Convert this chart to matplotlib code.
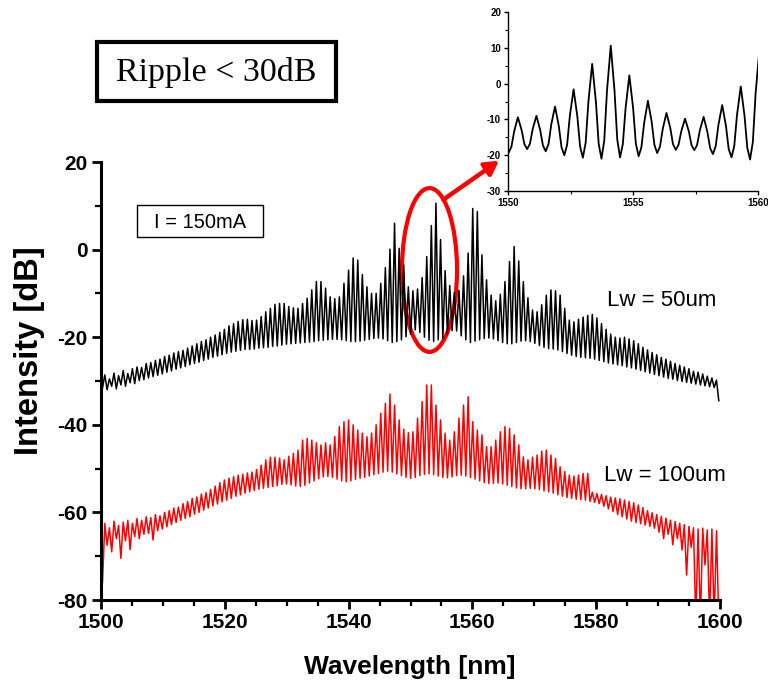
import numpy as np
import matplotlib
matplotlib.use("Agg")
import matplotlib.pyplot as plt
from matplotlib.patches import Ellipse, Rectangle

# ---------------------------------------------------------------------------
# Longitudinal mode comb: one peak every 0.743 nm, centred on the 1554.11 nm line
MODE_SPACING = 0.743
peak_wl = 1554.11 + MODE_SPACING * np.arange(-72, 62)                  # 134 peaks
trough_wl = np.append(peak_wl - MODE_SPACING / 2, peak_wl[-1] + MODE_SPACING / 2)  # 135 troughs

# Lw = 50 um : peak levels (dB) of every mode, short to long wavelength
lw50_peaks = [
    -28.6, -29.5, -28.2, -28.8, -27.6, -28.3, -27.2, -26.8, -26.9, -26.0,
    -25.8, -25.3, -25.0, -24.4, -24.1, -23.6, -23.3, -23.0, -22.5, -22.0,
    -21.5, -21.0, -20.6, -20.0, -19.5, -18.9, -18.2, -17.4, -16.9, -16.4,
    -16.0, -15.9, -16.2, -16.1, -15.3, -14.2, -13.4, -12.5, -12.3, -12.3,
    -13.0, -13.3, -13.4, -12.3, -11.1, -9.2, -7.3, -7.3, -8.8, -10.8,
    -11.2, -10.8, -7.7, -4.7, -1.9, -2.4, -5.7, -8.5, -10.0, -10.0,
    -7.7, -4.1, 0.1, 6.0, 0.3, -3.5, -8.5, -9.4, -9.0, -6.4,
    -1.6, 5.5, 10.6, 2.3, -4.8, -8.2, -9.8, -9.3, -6.0, -0.8,
    9.4, 8.7, -1.2, -6.9, -10.4, -11.7, -10.2, -7.3, -2.7, 0.7,
    -2.6, -7.3, -11.0, -13.8, -14.2, -12.6, -10.4, -9.2, -9.4, -10.4,
    -13.4, -16.1, -16.5, -15.9, -15.4, -15.0, -14.8, -15.6, -16.9, -18.2,
    -19.3, -20.0, -20.2, -20.0, -20.4, -20.8, -21.5, -22.3, -22.9, -23.5,
    -24.0, -24.6, -25.0, -25.5, -26.0, -26.4, -26.8, -27.2, -27.8, -28.0,
    -28.4, -28.9, -29.3, -29.8,
]
# Lw = 50 um : levels (dB) of the minima between modes
lw50_troughs = [
    -31.6, -32.0, -31.2, -31.8, -30.9, -31.2, -30.4, -30.6, -29.9, -29.7,
    -29.3, -29.0, -28.7, -28.4, -28.0, -27.7, -27.3, -27.0, -26.7, -26.3,
    -26.0, -25.7, -25.3, -25.0, -24.6, -24.3, -24.0, -23.7, -23.4, -23.2,
    -23.0, -22.8, -22.8, -22.7, -22.5, -22.4, -22.3, -22.1, -22.0, -21.8,
    -21.6, -21.5, -21.4, -21.3, -21.2, -21.1, -21.0, -20.8, -20.7, -20.6,
    -20.5, -20.5, -20.6, -20.8, -21.0, -21.0, -20.9, -20.7, -20.5, -20.3,
    -20.2, -20.4, -20.8, -21.2, -21.0, -20.6, -19.9, -19.3, -18.3, -18.9,
    -20.0, -20.7, -21.0, -20.6, -20.3, -19.4, -18.5, -18.6, -19.7, -20.6,
    -21.2, -20.9, -20.6, -20.3, -20.2, -20.4, -20.8, -21.2, -21.5, -21.5,
    -21.2, -20.9, -20.8, -21.0, -21.4, -21.9, -22.3, -22.6, -22.7, -22.9,
    -23.3, -23.7, -24.1, -24.4, -24.6, -24.7, -24.8, -25.0, -25.3, -25.6,
    -25.9, -26.1, -26.3, -26.5, -26.8, -27.0, -27.3, -27.6, -27.9, -28.2,
    -28.5, -28.8, -29.1, -29.4, -29.6, -29.9, -30.1, -30.3, -30.5, -30.7,
    -30.9, -31.1, -31.3, -31.5, -34.5,
]

# Lw = 100 um : peak levels (dB)
lw100_peaks = [
    -62.5, -63.5, -62.0, -63.0, -62.2, -61.8, -62.5, -61.4, -61.8, -61.0,
    -61.2, -60.5, -60.8, -60.0, -59.6, -59.0, -58.8, -58.0, -57.5, -56.8,
    -56.5, -55.8, -55.5, -54.8, -54.0, -53.2, -52.6, -52.2, -51.8, -51.5,
    -51.3, -51.0, -50.8, -50.2, -49.2, -48.0, -47.4, -47.4, -47.6, -48.0,
    -47.2, -46.5, -45.8, -43.5, -43.1, -43.5, -44.1, -44.6, -44.1, -44.6,
    -42.7, -40.4, -39.3, -38.9, -40.0, -41.2, -41.9, -42.7, -41.9, -40.0,
    -37.4, -35.1, -33.0, -35.5, -38.9, -41.0, -41.8, -41.6, -38.5, -34.7,
    -30.9, -30.9, -35.5, -38.9, -41.9, -43.5, -41.6, -38.5, -35.5, -33.6,
    -39.3, -41.2, -42.3, -45.0, -45.0, -43.5, -41.6, -40.4, -40.8, -42.3,
    -44.6, -47.3, -48.0, -47.4, -46.9, -46.0, -45.8, -46.9, -47.7, -49.6,
    -50.7, -51.5, -51.7, -51.5, -51.1, -51.1, -55.4, -55.7, -55.9, -56.2,
    -56.5, -56.7, -56.9, -57.2, -57.5, -57.8, -58.3, -58.9, -59.6, -60.1,
    -60.5, -60.9, -61.3, -61.8, -62.1, -62.5, -62.8, -63.2, -63.5, -63.8,
    -63.6, -64.0, -63.8, -64.2,
]
# Lw = 100 um : minima between modes (dB); the deepest ones fall below the floor
lw100_troughs = [
    -76.0, -67.5, -69.0, -66.0, -70.5, -66.5, -68.5, -65.5, -66.0, -65.0,
    -64.8, -66.3, -64.2, -63.8, -63.3, -62.8, -62.3, -61.8, -61.4, -61.0,
    -60.4, -60.0, -59.5, -59.0, -58.5, -58.1, -57.6, -57.2, -56.8, -56.3,
    -56.0, -55.6, -55.3, -55.0, -54.7, -54.5, -54.3, -54.1, -53.9, -53.6,
    -53.5, -53.7, -54.0, -54.1, -53.8, -53.3, -52.8, -52.3, -51.9, -51.8,
    -52.0, -52.4, -52.8, -53.0, -52.8, -52.5, -52.2, -52.0, -51.7, -51.4,
    -51.1, -50.8, -50.6, -50.8, -51.2, -51.6, -52.0, -52.2, -52.0, -51.6,
    -51.3, -51.2, -51.4, -51.7, -52.0, -52.1, -51.9, -51.6, -51.5, -51.7,
    -52.0, -52.4, -52.8, -53.2, -53.4, -53.4, -53.3, -53.5, -53.8, -54.1,
    -54.4, -54.6, -54.6, -54.5, -54.6, -54.8, -55.1, -55.3, -55.6, -56.0,
    -56.3, -56.6, -56.8, -57.0, -57.1, -57.2, -57.5, -57.7, -58.0, -58.6,
    -59.2, -59.8, -60.5, -61.0, -61.5, -62.0, -62.3, -62.6, -62.9, -63.2,
    -63.6, -64.5, -66.0, -65.0, -67.4, -66.0, -68.6, -74.3, -68.0, -85.0,
    -85.0, -72.0, -85.0, -85.0, -85.0,
]

# Detail of the Lw = 50 um spectrum around 1550-1560 nm (modes 66..80):
# levels on the rising and falling flanks of each mode
inset_first_mode = 66
inset_rise_foot = [-18.1, -17.7, -16.8, -16.9, -17.1, -16.5, -15.9, -16.9, -17.8, -17.6, -17.1, -17.1, -17.5, -17.4, -16.3]
inset_rise_mid = [-13.1, -13.4, -12.7, -11.4, -9.0, -5.0, -2.0, -6.9, -11.0, -12.7, -13.3, -13.0, -11.5, -8.7, -2.8]
inset_fall_mid = [-12.8, -13.0, -13.0, -11.8, -9.2, -5.1, -1.9, -6.7, -10.6, -12.3, -13.3, -13.5, -11.8, -9.0, -2.7]
inset_fall_foot = [-17.6, -16.9, -17.3, -17.8, -17.6, -16.8, -15.6, -16.7, -17.1, -16.9, -17.2, -18.0, -18.3, -17.9, -16.1]

# Axis ticks
main_xticks = [1500, 1520, 1540, 1560, 1580, 1600]
main_yticks = [20, 0, -20, -40, -60, -80]
inset_xticks = [1550, 1555, 1560]
inset_yticks = [20, 10, 0, -10, -20, -30]


def comb_line(troughs, peaks):
    """Alternate minima and maxima along the wavelength axis."""
    wl = np.empty(len(trough_wl) + len(peak_wl))
    db = np.empty_like(wl)
    wl[0::2], wl[1::2] = trough_wl, peak_wl
    db[0::2], db[1::2] = troughs, peaks
    return wl, db


def detail_line():
    wl, db = [], []
    for n in range(len(inset_rise_mid)):
        m = inset_first_mode + n
        p = peak_wl[m]
        wl += [trough_wl[m], p - 0.26, p - 0.15, p, p + 0.15, p + 0.26]
        db += [lw50_troughs[m], inset_rise_foot[n], inset_rise_mid[n],
               lw50_peaks[m], inset_fall_mid[n], inset_fall_foot[n]]
    last = inset_first_mode + len(inset_rise_mid)
    wl.append(trough_wl[last])
    db.append(lw50_troughs[last])
    return np.array(wl), np.array(db)


plt.rcParams['font.family'] = ['Liberation Sans', 'DejaVu Sans']
plt.rcParams['axes.unicode_minus'] = False

fig = plt.figure(figsize=(7.68, 6.97), dpi=100)


def fig_box(x0, y0, x1, y1, lw):
    """Rectangle given in pixel corners measured from the top-left."""
    W, H = 768, 697
    fig.add_artist(Rectangle((x0 / W, 1 - y1 / H), (x1 - x0) / W, (y1 - y0) / H,
                             transform=fig.transFigure, fill=False, ec='black', lw=lw))


# ---------------------------------------------------------------- main panel
ax = fig.add_axes([101 / 768, 1 - 600 / 697, 619 / 768, 438 / 697])
wl50, db50 = comb_line(lw50_troughs, lw50_peaks)
wl100, db100 = comb_line(lw100_troughs, lw100_peaks)
ax.plot(wl50, db50, color='black', lw=1.1)
ax.plot(wl100, db100, color='#ff0000', lw=1.1)

ax.set_xlim(1500, 1600)
ax.set_ylim(-80, 20)
ax.set_xticks(main_xticks)
ax.set_yticks(main_yticks)
ax.set_xticks(np.arange(1500, 1601, 5), minor=True)
ax.set_yticks(np.arange(-80, 21, 10), minor=True)
for s in ('top', 'right'):
    ax.spines[s].set_visible(False)
for s in ('left', 'bottom'):
    ax.spines[s].set_linewidth(2.2)
ax.tick_params(which='major', direction='out', length=6.5, width=2, labelsize=15, pad=3)
ax.tick_params(which='minor', direction='out', length=4, width=1.6)
for lab in ax.get_xticklabels() + ax.get_yticklabels():
    lab.set_fontweight('bold')

fig.text(30 / 768, 1 - 351 / 697, 'Intensity [dB]', rotation=90, ha='center', va='center',
         fontsize=23.5, fontweight='bold')
fig.text(410 / 768, 1 - 667 / 697, 'Wavelength [nm]', ha='center', va='center',
         fontsize=19, fontweight='bold')

ax.text(1516.0, 6.3, 'I = 150mA', ha='center', va='center', fontsize=14.5)
fig_box(137, 205, 263, 237, 1.0)
ax.text(1590.6, -11.7, 'Lw = 50um', ha='center', va='center', fontsize=16)
ax.text(1591.1, -51.5, 'Lw = 100um', ha='center', va='center', fontsize=16)

fig.text(216.5 / 768, 1 - 73 / 697, 'Ripple < 30dB', ha='center', va='center',
         fontsize=24.5, family='Liberation Serif')
fig_box(97, 42, 336, 101, 3.0)

# red marker around the strongest modes and arrow to the detail panel
ax.add_patch(Ellipse((1553.07, -4.66), 8.9, 37.4, fill=False, ec='#ff0000', lw=3.0,
                     clip_on=False))
ax.annotate('', xy=(1564.3, 20.3), xytext=(1555.3, 11.4), xycoords='data',
            arrowprops=dict(arrowstyle='-|>,head_length=0.8,head_width=0.45',
                            color='#ff0000', lw=3.2, shrinkA=0, shrinkB=0),
            annotation_clip=False)

# ---------------------------------------------------------------- detail panel
ins = fig.add_axes([508 / 768, 1 - 191 / 697, 250 / 768, 179 / 697])
iwl, idb = detail_line()
ins.plot(iwl, idb, color='black', lw=1.3)
ins.set_xlim(1550, 1560)
ins.set_ylim(-30, 20)
ins.set_xticks(inset_xticks)
ins.set_yticks(inset_yticks)
ins.set_xticks([1552.5, 1557.5], minor=True)
ins.set_yticks(np.arange(-25, 20, 10), minor=True)
for s in ('top', 'right'):
    ins.spines[s].set_visible(False)
for s in ('left', 'bottom'):
    ins.spines[s].set_linewidth(1.0)
ins.tick_params(which='major', direction='out', length=3, width=1, labelsize=7, pad=2)
ins.tick_params(which='minor', direction='out', length=2, width=0.8)
for lab in ins.get_xticklabels() + ins.get_yticklabels():
    lab.set_fontweight('bold')
ins.patch.set_alpha(0)

fig.savefig('out.png', dpi=100, facecolor='white')
